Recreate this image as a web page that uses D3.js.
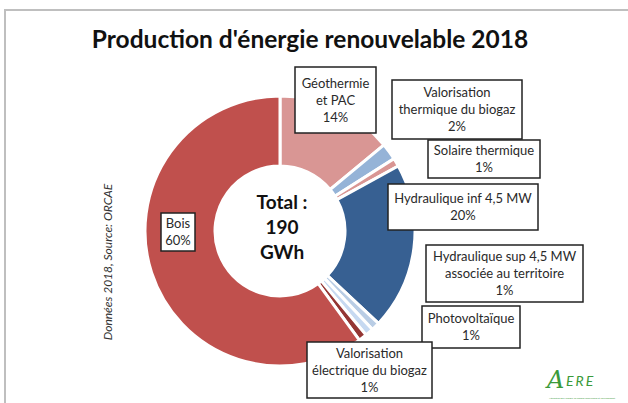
<!DOCTYPE html>
<html>
<head>
<meta charset="utf-8">
<script src="https://cdn.jsdelivr.net/npm/d3@7"></script>
<style>
  body { margin: 0; background: #fff; }
  svg { display: block; font-family: Lato, "Open Sans", sans-serif; }
</style>
</head>
<body>
<div id="chart"></div>
<script>
// data
var categories = ["Géothermie et PAC", "Valorisation thermique du biogaz", "Solaire thermique",
  "Hydraulique inf 4,5 MW", "Hydraulique sup 4,5 MW associée au territoire", "Photovoltaïque",
  "Valorisation électrique du biogaz", "Bois"];
var values = [26.6, 3.8, 1.9, 38, 1.9, 1.9, 1.9, 114];   // GWh
var percentLabels = ["14%", "2%", "1%", "20%", "1%", "1%", "1%", "60%"];
var labelLines = [
  ["Géothermie", "et PAC"],
  ["Valorisation", "thermique du biogaz"],
  ["Solaire thermique"],
  ["Hydraulique inf 4,5 MW"],
  ["Hydraulique sup 4,5 MW", "associée au territoire"],
  ["Photovoltaïque"],
  ["Valorisation", "électrique du biogaz"],
  ["Bois"]
];
var totalLines = ["Total :", "190", "GWh"];

// layout of the callout boxes (x, y, w, h)
var boxes = [
  [295, 67, 81, 66],
  [392, 80, 130, 59],
  [428, 140, 112, 38],
  [388, 184, 150, 46],
  [426, 245, 157, 57],
  [422, 306, 98, 42],
  [307, 342, 125, 56],
  [161, 213, 34, 38]
];
var colors = ["#D99694", "#95B3D7", "#D99694", "#376092", "#B9CDE5", "#C6D9F1", "#943634", "#C0504D"];

var width = 628, height = 403;
var cx = 280, cy = 231, outerR = 135, innerR = 65;

var svg = d3.select("#chart").append("svg")
  .attr("width", width)
  .attr("height", height);

// frame
svg.append("path")
  .attr("d", "M5," + height + " V10 H" + width)
  .attr("fill", "none")
  .attr("stroke", "#BFBFBF")
  .attr("stroke-width", 2);

svg.append("text")
  .attr("x", 310)
  .attr("y", 48)
  .attr("text-anchor", "middle")
  .attr("font-size", 24.5)
  .attr("font-weight", "bold")
  .attr("fill", "#111")
  .text("Production d'énergie renouvelable 2018");

var pie = d3.pie().sort(null).value(function(d) { return d; });
var arc = d3.arc().innerRadius(innerR).outerRadius(outerR);

var g = svg.append("g").attr("transform", "translate(" + cx + "," + cy + ")");

g.selectAll("path.slice")
  .data(pie(values))
  .enter().append("path")
  .attr("class", "slice")
  .attr("d", arc)
  .attr("fill", function(d, i) { return colors[i]; })
  .attr("stroke", "#fff")
  .attr("stroke-width", 3);

// centre total
g.selectAll("text.total")
  .data(totalLines)
  .enter().append("text")
  .attr("class", "total")
  .attr("x", 2)
  .attr("y", function(d, i) { return -22 + i * 25; })
  .attr("text-anchor", "middle")
  .attr("font-size", 19)
  .attr("font-weight", "bold")
  .attr("fill", "#111")
  .text(function(d) { return d; });

// callouts
var labels = svg.selectAll("g.label")
  .data(categories)
  .enter().append("g")
  .attr("class", "label");

labels.append("rect")
  .attr("x", function(d, i) { return boxes[i][0]; })
  .attr("y", function(d, i) { return boxes[i][1]; })
  .attr("width", function(d, i) { return boxes[i][2]; })
  .attr("height", function(d, i) { return boxes[i][3]; })
  .attr("fill", "#fff")
  .attr("stroke", "#222")
  .attr("stroke-width", 1.5);

labels.each(function(d, i) {
  var lines = labelLines[i].concat([percentLabels[i]]);
  var b = boxes[i];
  var lh = 17;
  var top = b[1] + b[3] / 2 - (lines.length * lh) / 2 + 13;
  d3.select(this).selectAll("text")
    .data(lines)
    .enter().append("text")
    .attr("x", b[0] + b[2] / 2)
    .attr("y", function(t, j) { return top + j * lh; })
    .attr("text-anchor", "middle")
    .attr("font-size", 13)
    .attr("fill", "#2a2a2a")
    .text(function(t) { return t; });
});

// source note
svg.append("text")
  .attr("transform", "translate(112,262) rotate(-90)")
  .attr("text-anchor", "middle")
  .attr("font-size", 12)
  .attr("font-style", "italic")
  .attr("fill", "#333")
  .text("Données 2018, Source:  ORCAE");

// logo
svg.append("text")
  .attr("x", 547)
  .attr("y", 388)
  .attr("font-size", 24)
  .attr("font-style", "italic")
  .attr("font-family", "DejaVu Serif, serif")
  .attr("fill", "#3A9A3A")
  .text("A");
svg.append("text")
  .attr("x", 566)
  .attr("y", 386)
  .attr("font-size", 14)
  .attr("font-style", "italic")
  .attr("letter-spacing", 2)
  .attr("fill", "#3A9A3A")
  .text("ERE");
svg.append("text")
  .attr("x", 549)
  .attr("y", 399)
  .attr("font-size", 2.5)
  .attr("textLength", 66)
  .attr("lengthAdjust", "spacingAndGlyphs")
  .attr("fill", "#3A9A3A")
  .text("Alternatives pour l'énergie, les énergies renouvelables et l'environnement");
</script>
</body>
</html>
